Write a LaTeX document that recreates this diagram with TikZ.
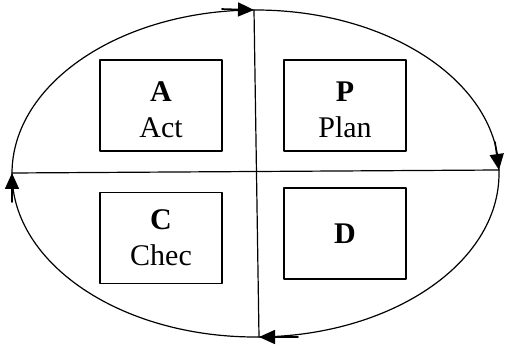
\documentclass[tikz,border=0pt]{standalone}
\usepackage{fontspec}
\setmainfont{Liberation Serif}
\usetikzlibrary{arrows.meta}

\tikzset{
  phase/.style={draw, line width=1.3pt, minimum width=122pt, minimum height=91pt,
    align=center, inner sep=0pt, font=\fontsize{30}{36}\selectfont},
  phasetext/.style={align=center, inner sep=0pt, yshift=-4pt, font=\fontsize{30}{36}\selectfont},
  flow/.style={line width=1.6pt, -{Triangle[length=16pt, width=14pt]}}
}

\begin{document}
\begin{tikzpicture}[x=1pt, y=-1pt, line cap=round, line join=round]
  \useasboundingbox (0,0) rectangle (509,350);
  \draw[line width=1.2pt] (255.5,173.5) ellipse (243.5 and 163.5);
  % ends of the two axes
  \coordinate (west) at (12,173);
  \coordinate (east) at (499,170);
  \coordinate (north) at (254,10);
  \coordinate (south) at (259,337);
  \draw[line width=1.2pt] (west) -- (east);
  \draw[line width=1.2pt] (north) -- (south);
  % the four quarters
  \node[phase, label={[phasetext]center:{\textbf{A}\\Act}}] (act) at (161,105.5) {};
  \node[phase, label={[phasetext]center:{\textbf{P}\\Plan}}] (plan) at (345,105.5) {};
  \node[phase] (check) at (161,238) {\textbf{C}\\Chec};
  \node[phase] (do) at (345,233.5) {\textbf{D}};
  % direction of the cycle
  \coordinate (ntail) at (222,9);
  \coordinate (etail) at (495,142);
  \coordinate (stail) at (298,337);
  \coordinate (wtail) at (12,202);
  \draw[flow] (ntail) -- (north);
  \draw[flow] (etail) -- (east);
  \draw[flow] (stail) -- (south);
  \draw[flow] (wtail) -- (west);
\end{tikzpicture}
\end{document}
